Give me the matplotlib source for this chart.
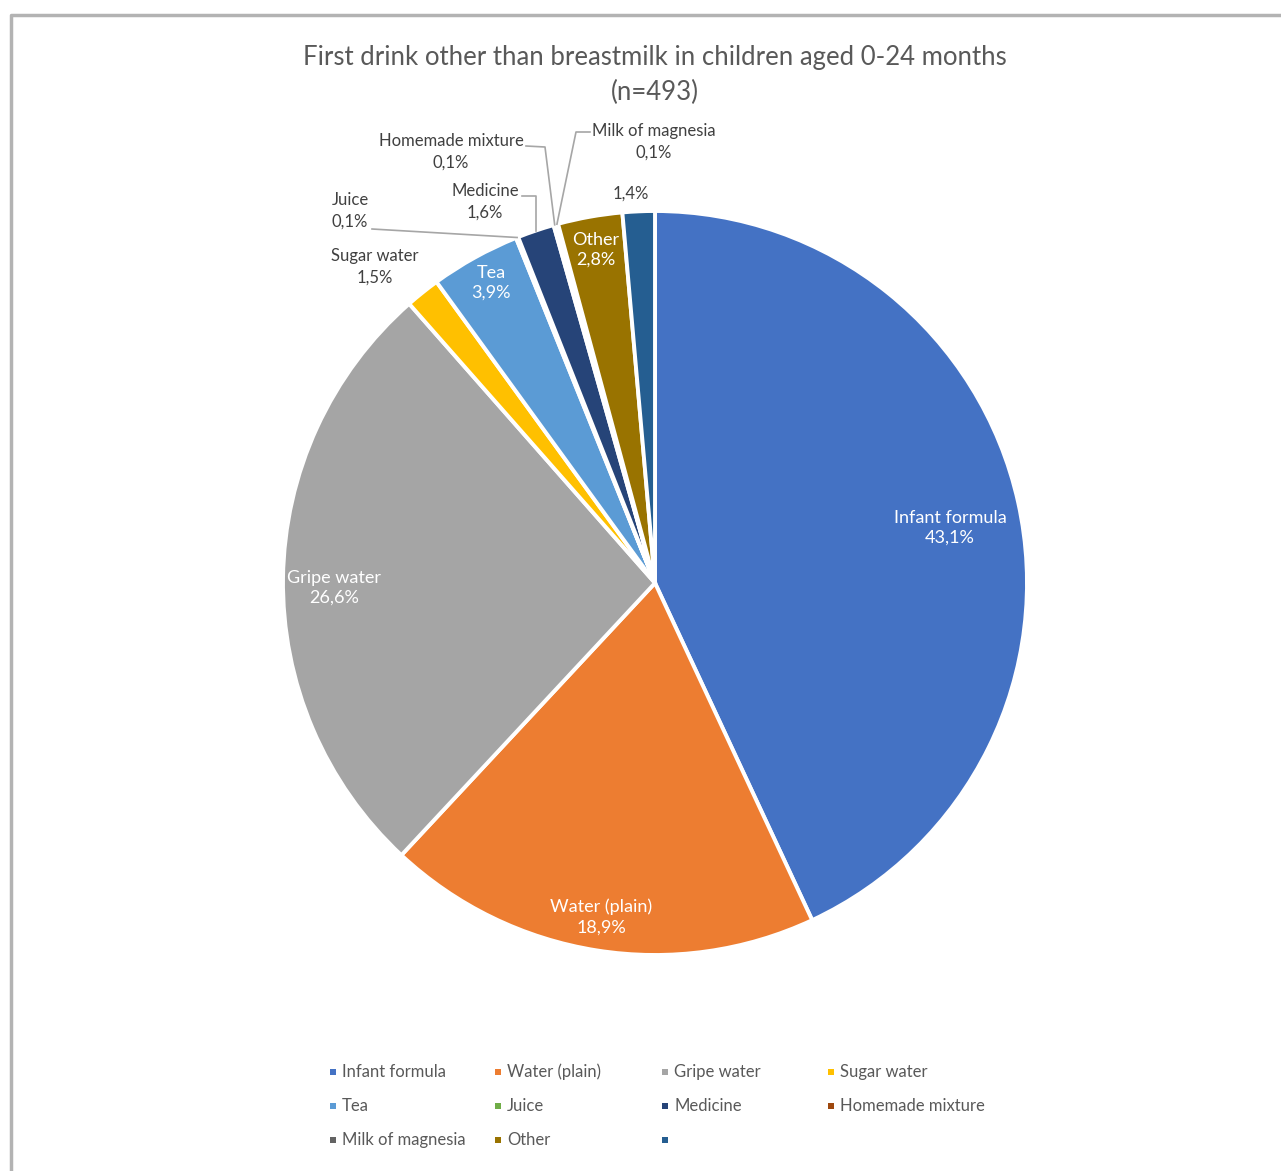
import matplotlib
matplotlib.use("Agg")
import matplotlib.pyplot as plt
from matplotlib.patches import Rectangle
from matplotlib.lines import Line2D
import math

# ---- data ----
categories = ["Infant formula", "Water (plain)", "Gripe water", "Sugar water", "Tea",
              "Juice", "Medicine", "Homemade mixture", "Milk of magnesia", "Other", ""]
values = [43.1, 18.9, 26.6, 1.5, 3.9, 0.1, 1.6, 0.1, 0.1, 2.8, 1.4]
value_labels = ["43,1%", "18,9%", "26,6%", "1,5%", "3,9%", "0,1%", "1,6%", "0,1%", "0,1%", "2,8%", "1,4%"]
colors = ["#4472C4", "#ED7D31", "#A5A5A5", "#FFC000", "#5B9BD5", "#70AD47",
          "#264478", "#9E480E", "#636363", "#997300", "#255E91"]
title_line1 = "First drink other than breastmilk in children aged 0-24 months"
title_line2 = "(n=493)"

W, H = 1281, 1171
plt.rcParams['font.family'] = ['Lato', 'DejaVu Sans']

fig = plt.figure(figsize=(W / 100, H / 100), dpi=100)
ax = fig.add_axes([0, 0, 1, 1])

def Y(y):
    return H - y

cx, cy, R = 655, 583, 372
wedges, _ = ax.pie(values, colors=colors, startangle=90, counterclock=False,
                   center=(cx, Y(cy)), radius=R,
                   wedgeprops=dict(edgecolor="white", linewidth=2.8))
ax.set_xlim(0, W)
ax.set_ylim(0, H)
ax.set_aspect("equal")
ax.axis("off")

# frame line (top and left)
ax.add_line(Line2D([10.5, 10.5, W], [Y(H), Y(14.5), Y(14.5)], color="#b3b3b3", lw=2.5,
                   solid_capstyle="butt"))

# title
ax.text(655, Y(58), title_line1, ha="center", va="center", fontsize=18.5, color="#595959")
ax.text(655, Y(92), title_line2, ha="center", va="center", fontsize=18.5, color="#595959")

fs = 12
ls = 1.4
# inside labels (white)
inside = {0: (950, 528), 1: (601, 917), 2: (334, 588), 4: (491, 283), 9: (596, 250)}
for i, (x, y) in inside.items():
    ax.text(x, Y(y), f"{categories[i]}\n{value_labels[i]}", ha="center", va="center",
            fontsize=13, color="white", linespacing=1.3)

# outside labels
outside = {3: (375, 267), 5: (350, 211), 6: (485, 202), 7: (451, 152), 8: (654, 142), 10: (631, 194)}
for i, (x, y) in outside.items():
    txt = f"{categories[i]}\n{value_labels[i]}" if categories[i] else value_labels[i]
    ax.text(x, Y(y), txt, ha="center", va="center", fontsize=fs, color="#404040",
            linespacing=ls)

def anchor(i):
    w = wedges[i]
    a = math.radians((w.theta1 + w.theta2) / 2)
    return cx + R * math.cos(a), cy - R * math.sin(a)

lc = "#a6a6a6"
# Juice leader
ax0, ay0 = anchor(5)
ax.plot([372, ax0], [Y(229), Y(ay0)], color=lc, lw=1.2)
# Medicine leader
ax0, ay0 = anchor(6)
ax.plot([522, ax0, ax0], [Y(196), Y(196), Y(ay0)], color=lc, lw=1.2)
# Homemade mixture leader
ax0, ay0 = anchor(7)
ax.plot([526, 545, ax0], [Y(146), Y(147), Y(ay0)], color=lc, lw=1.2)
# Milk of magnesia leader
ax0, ay0 = anchor(8)
ax.plot([590, 576, ax0], [Y(132), Y(132), Y(ay0)], color=lc, lw=1.2)

# legend (manual grid, row-major)
col_x = [333, 498, 665, 831]
row_y = [1072, 1106, 1140]
for k, (lab, c) in enumerate(zip(categories, colors)):
    r, cc = divmod(k, 4)
    x, y = col_x[cc], row_y[r]
    ax.add_patch(Rectangle((x - 3, Y(y) - 3), 6, 6, facecolor=c, edgecolor="none"))
    ax.text(x + 9, Y(y), lab, ha="left", va="center", fontsize=fs, color="#595959")

fig.savefig("out.png", dpi=100)
